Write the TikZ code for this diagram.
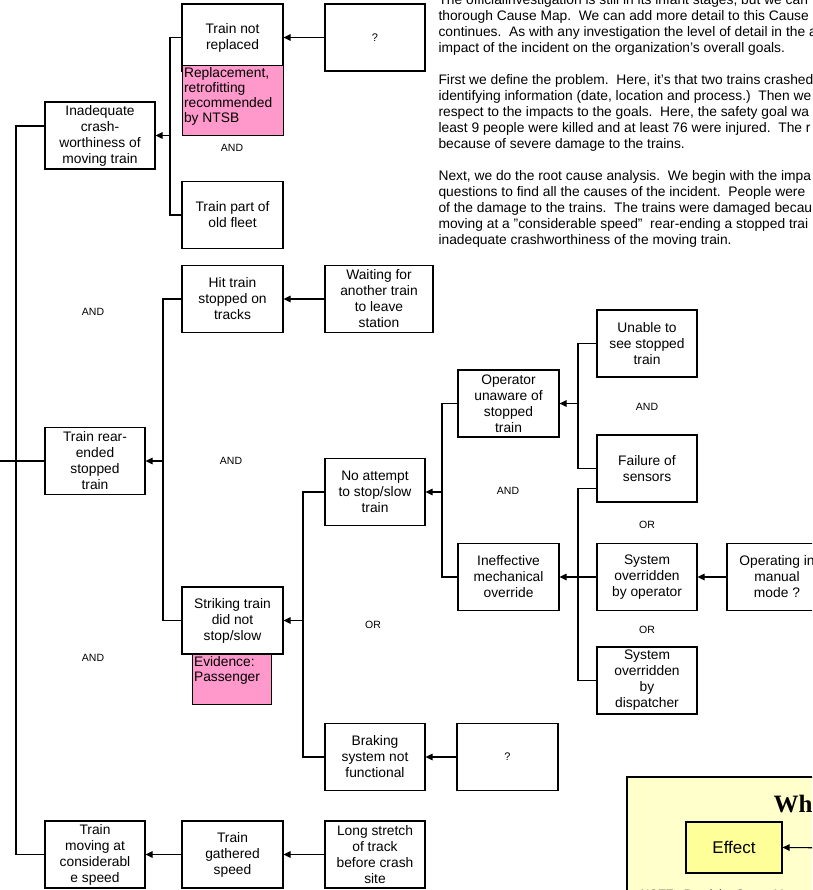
\documentclass[tikz,border=0pt]{standalone}
\usepackage{fontspec}
\setmainfont{Liberation Sans}
\newfontfamily\serifhead{Liberation Serif}
\usepackage{tikz}
\usetikzlibrary{positioning}
\usetikzlibrary{calc}
\usetikzlibrary{arrows.meta}
\definecolor{notepink}{RGB}{255,153,204}
\definecolor{legendbg}{RGB}{255,255,204}
\definecolor{effectyellow}{RGB}{255,255,153}

\begin{document}
\begin{tikzpicture}[x=1pt, y=-1pt, >={Triangle[length=7pt, width=6.5pt]}, line width=1.1pt]
	\tikzstyle{cause}=[rectangle, draw=black, minimum width=100pt, minimum height=67pt, inner sep=0pt, align=center, font=\fontsize{13.8}{16}\selectfont]
	\tikzstyle{notebox}=[draw=black, line width=0.8pt, fill=notepink]
	\tikzstyle{notetext}=[anchor=north west, inner sep=0pt, align=left, font=\fontsize{13.8}{15}\selectfont]
	\tikzstyle{gate}=[font=\fontsize{10.5}{12}\selectfont]
	\tikzstyle{para}=[anchor=north west, inner sep=0pt, align=left, font=\fontsize{13.8}{16}\selectfont]

	\useasboundingbox (0,0) rectangle (812,890);
	\clip (0,0) rectangle (812,890);

	% explanation text, cut by the right edge
	\draw node at (438,-5.9) [para] (story) {The officialinvestigation is still in its infant stages, but we can\\
		thorough Cause Map.\ \ We can add more detail to this Cause\\
		continues.\ \ As with any investigation the level of detail in the a\\
		impact of the incident on the organization's overall goals.\\[16pt]
		First we define the problem.\ \ Here, it's that two trains crashed\\
		identifying information (date, location and process.)\ \ Then we\\
		respect to the impacts to the goals.\ \ Here, the safety goal wa\\
		least 9 people were killed and at least 76 were injured.\ \ The r\\
		because of severe damage to the trains.\\[16pt]
		Next, we do the root cause analysis.\ \ We begin with the impa\\
		questions to find all the causes of the incident.\ \ People were\\
		of the damage to the trains.\ \ The trains were damaged becau\\
		moving at a "considerable speed"\ \ rear-ending a stopped trai\\
		inadequate crashworthiness of the moving train.};

	\draw node at (100,135.5) [cause, minimum width=110pt] (inad) {Inadequate\\crash-\\worthiness of\\moving train};
	\draw node at (95,461) [cause] (rear) {Train rear-\\ended\\stopped\\train};
	\draw node at (95,854.5) [cause] (moving) {Train\\moving at\\considerabl\\e speed};

	\draw node at (232.5,37.5) [cause, minimum width=101pt] (tnr) {Train not\\replaced};
	\draw [notebox] (182,65) rectangle (283,135);
	\draw node at (183.5,67) [notetext] (ntsb) {Replacement,\\retrofitting\\recommended\\by NTSB};
	\draw node at (375,37.5) [cause] (q1) {\fontsize{11}{13}\selectfont ?};
	\draw node at (232.5,215) [cause, minimum width=101pt] (fleet) {Train part of\\old fleet};

	\draw node at (232.5,299) [cause, minimum width=101pt] (hit) {Hit train\\stopped on\\tracks};
	\draw node at (379,299) [cause, minimum width=108pt] (wait) {Waiting for\\another train\\to leave\\station};

	\draw node at (232.5,620.5) [cause, minimum width=101pt] (strike) {Striking train\\did not\\stop/slow};
	\draw [notebox] (192,654) rectangle (271,704);
	\draw node at (193.5,656) [notetext] (evid) {Evidence:\\Passenger};

	\draw node at (375,492) [cause] (noatt) {No attempt\\to stop/slow\\train};
	\draw node at (375,757) [cause] (brake) {Braking\\system not\\functional};
	\draw node at (507.5,757) [cause, minimum width=101pt] (q2) {\fontsize{11}{13}\selectfont ?};

	\draw node at (508.5,403.5) [cause, minimum width=101pt] (oper) {Operator\\unaware of\\stopped\\train};
	\draw node at (508.5,577) [cause, minimum width=101pt] (ineff) {Ineffective\\mechanical\\override};

	\draw node at (647,343.5) [cause] (unable) {Unable to\\see stopped\\train};
	\draw node at (647,468.5) [cause, line width=1.8pt] (fail) {Failure of\\sensors};
	\draw node at (647,577) [cause] (sysop) {System\\overridden\\by operator};
	\draw node at (647,680.5) [cause] (disp) {System\\overridden\\by\\dispatcher};
	\draw node at (777,577) [cause] (manual) {Operating in\\manual\\mode ?};

	\draw node at (232.5,854.5) [cause, minimum width=101pt] (gath) {Train\\gathered\\speed};
	\draw node at (375,854.5) [cause] (long) {Long stretch\\of track\\before crash\\site};

	\draw node at (232,148) [gate] (and1) {AND};
	\draw node at (93,312) [gate] (and2) {AND};
	\draw node at (231,461) [gate] (and3) {AND};
	\draw node at (93,658) [gate] (and4) {AND};
	\draw node at (373,625) [gate] (or1) {OR};
	\draw node at (647,407) [gate] (and5) {AND};
	\draw node at (508,491) [gate] (and6) {AND};
	\draw node at (647,525) [gate] (or2) {OR};
	\draw node at (647,630) [gate] (or3) {OR};

	\coordinate (j0) at (16,461);
	\coordinate (away) at (-20,461);
	\coordinate (j1) at (170,135.5);
	\coordinate (j2) at (163,461);
	\coordinate (j3) at (303,620.5);
	\coordinate (j4) at (442,492);
	\coordinate (j5) at (578,403.5);
	\coordinate (j6) at (578,577);

	\draw ([yshift=9.5pt]inad.west) -| (j0) |- (moving.west);
	\draw [->] (rear.west) to (away);

	\draw (tnr.west) -| (j1) |- (fleet.west);
	\draw [->] (j1) to (inad.east);
	\draw [->] (q1.west) to (tnr.east);

	\draw (hit.west) -| (j2) |- (strike.west);
	\draw [->] (j2) to (rear.east);
	\draw [->] (wait.west) to (hit.east);

	\draw (noatt.west) -| (j3) |- (brake.west);
	\draw [->] (j3) to (strike.east);
	\draw [->] (q2.west) to (brake.east);

	\draw (oper.west) -| (j4) |- (ineff.west);
	\draw [->] (j4) to (noatt.east);

	\draw (unable.west) -| (j5) |- (fail.west);
	\draw [->] (j5) to (oper.east);

	\draw ([yshift=-20pt]fail.west) -| (j6) |- (disp.west);
	\draw [->] (sysop.west) to (ineff.east);
	\draw [->] (manual.west) to (sysop.east);

	\draw [->] (long.west) to (gath.east);
	\draw [->] (gath.west) to (moving.east);

	% legend, cut by the picture edge
	\draw [fill=legendbg] (627,777) rectangle (850,930);
	\draw node at (773,812) [anchor=base west, inner sep=0pt, font=\serifhead\bfseries\fontsize{25}{25}\selectfont] (why) {Wh};
	\draw node at (734,847.5) [cause, fill=effectyellow, minimum width=96pt, minimum height=51pt, font=\fontsize{17}{19}\selectfont] (effect) {Effect};
	\coordinate (lgin) at (850,848);
	\draw [->] (lgin) to (effect.east);
	\draw node at (640,898) [anchor=base west, inner sep=0pt, font=\fontsize{12}{14}\selectfont] (readme) {NOTE:\ \ Read the Cause Map};
\end{tikzpicture}
\end{document}
